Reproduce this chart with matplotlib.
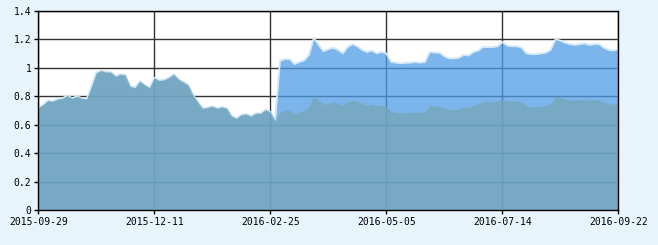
import numpy as np
import matplotlib.pyplot as plt

# one value every 2 trading days, ticks every 24 points
tick_labels = ['2015-09-29', '2015-12-11', '2016-02-25', '2016-05-05', '2016-07-14', '2016-09-22']

# both series coincide before the split
pre_split = [0.72, 0.74, 0.77, 0.765, 0.78, 0.785, 0.805, 0.785, 0.80, 0.785,
             0.78, 0.87, 0.965, 0.98, 0.97, 0.97, 0.94, 0.955, 0.95, 0.87,
             0.86, 0.905, 0.88, 0.86, 0.93, 0.91, 0.915, 0.93, 0.955, 0.92,
             0.90, 0.88, 0.81, 0.76, 0.715, 0.72, 0.73, 0.715, 0.725, 0.715,
             0.66, 0.645, 0.67, 0.675, 0.66, 0.68, 0.68, 0.705, 0.69, 0.63]

acc_post = [1.05, 1.06, 1.06, 1.025, 1.04, 1.05, 1.09, 1.21, 1.16, 1.115,
            1.13, 1.14, 1.125, 1.10, 1.145, 1.165, 1.15, 1.125, 1.11, 1.12,
            1.10, 1.11, 1.10, 1.04, 1.035, 1.03, 1.035, 1.035, 1.04, 1.035,
            1.04, 1.11, 1.105, 1.105, 1.08, 1.065, 1.065, 1.07, 1.09, 1.085,
            1.11, 1.12, 1.145, 1.145, 1.145, 1.15, 1.18, 1.155, 1.15, 1.15,
            1.14, 1.10, 1.095, 1.095, 1.10, 1.105, 1.125, 1.20, 1.19, 1.175,
            1.165, 1.16, 1.165, 1.17, 1.16, 1.165, 1.165, 1.14, 1.125, 1.12,
            1.13]

unit_post = [0.69, 0.70, 0.70, 0.675, 0.69, 0.70, 0.725, 0.80, 0.77, 0.74,
             0.75, 0.76, 0.75, 0.735, 0.76, 0.77, 0.765, 0.745, 0.735, 0.745,
             0.73, 0.735, 0.73, 0.69, 0.685, 0.68, 0.685, 0.685, 0.69, 0.685,
             0.69, 0.735, 0.73, 0.73, 0.715, 0.705, 0.705, 0.71, 0.72, 0.72,
             0.735, 0.745, 0.76, 0.76, 0.76, 0.765, 0.78, 0.765, 0.765, 0.765,
             0.755, 0.73, 0.725, 0.725, 0.73, 0.735, 0.745, 0.80, 0.79, 0.78,
             0.775, 0.77, 0.775, 0.775, 0.77, 0.775, 0.775, 0.755, 0.745, 0.745,
             0.75]

acc = np.array(pre_split + acc_post)
unit = np.array(pre_split + unit_post)
x = np.arange(len(acc))

fig = plt.figure(figsize=(6.58, 2.45), dpi=100, facecolor='#e8f4fc')
ax = fig.add_axes([0.0582, 0.1429, 0.8815, 0.8134])
ax.set_facecolor('white')

ax.fill_between(x, 0, acc, color='#509ce6', alpha=0.75, lw=0, zorder=2)
ax.plot(x, acc, color='#d2e8f7', lw=1.3, zorder=3)
ax.fill_between(x, 0, unit, color='#76a6b7', alpha=0.75, lw=0, zorder=4)

ax.set_xlim(0, len(acc) - 1)
ax.set_ylim(0, 1.4)
ax.set_xticks(np.arange(0, len(acc), 24))
ax.set_xticklabels(tick_labels)
yt = np.arange(0, 1.41, 0.2)
ax.set_yticks(yt)
ax.set_yticklabels(['0', '0.2', '0.4', '0.6', '0.8', '1', '1.2', '1.4'])

ax.grid(True, color='#333333', lw=1)
ax.set_axisbelow(True)
ax.tick_params(length=3, width=1, color='black', labelsize=7, pad=2)
for lab in ax.get_xticklabels() + ax.get_yticklabels():
    lab.set_family('DejaVu Sans Mono')
for s in ax.spines.values():
    s.set_color('black')
    s.set_linewidth(1)
    s.set_zorder(6)

fig.savefig('out.png', dpi=100, facecolor=fig.get_facecolor())
